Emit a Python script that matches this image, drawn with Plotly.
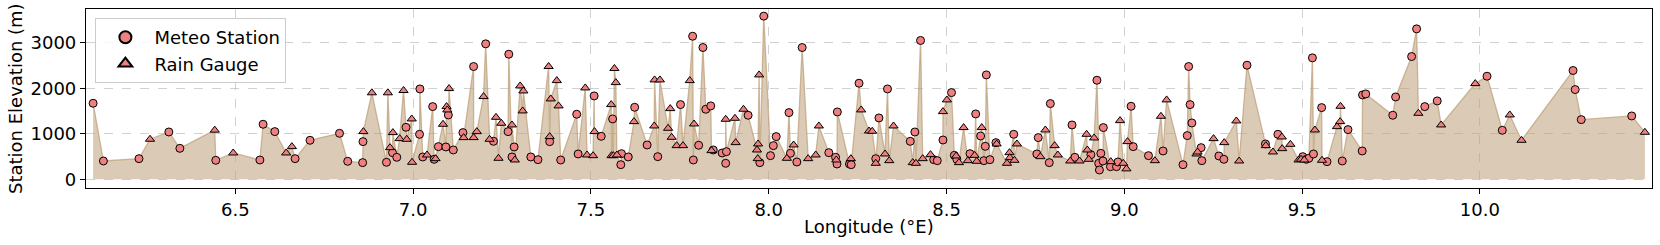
import plotly.graph_objects as go

# Meteo stations: longitude (°E), elevation (m)
meteo_lon = [6.100, 6.129, 6.229, 6.313, 6.344, 6.445, 6.569, 6.578, 6.611, 6.668,
             6.710, 6.793, 6.816, 6.858, 6.859, 6.925, 6.942, 6.954, 6.980, 7.018, 7.019,
             7.027, 7.055, 7.059, 7.071, 7.092, 7.099, 7.113, 7.140, 7.170, 7.204, 7.226,
             7.267, 7.269, 7.278, 7.284, 7.331, 7.351, 7.384, 7.415, 7.460, 7.464, 7.509,
             7.529, 7.561, 7.584, 7.586, 7.605, 7.623, 7.658, 7.688, 7.752, 7.786, 7.788,
             7.803, 7.815, 7.823, 7.837, 7.844, 7.869, 7.879, 7.881, 7.942, 7.975, 7.986,
             8.005, 8.013, 8.021, 8.057, 8.061, 8.079, 8.094, 8.169, 8.188, 8.192, 8.193,
             8.227, 8.232, 8.254, 8.301, 8.310, 8.334,
             8.398, 8.411, 8.427, 8.464, 8.474, 8.490, 8.514, 8.522, 8.529, 8.566, 8.582,
             8.596, 8.605, 8.609, 8.612, 8.622, 8.639, 8.689, 8.754, 8.758, 8.789, 8.792,
             8.853, 8.861, 8.906, 8.923, 8.928, 8.930, 8.934, 8.940, 8.941, 8.961, 8.978,
             8.982, 9.019, 9.025, 9.068, 9.109, 9.165, 9.177, 9.181, 9.185, 9.190, 9.216,
             9.218, 9.266, 9.280, 9.345, 9.397, 9.432,
             9.502, 9.512, 9.519, 9.529, 9.532, 9.555, 9.570, 9.613, 9.629, 9.669, 9.670,
             9.679, 9.755, 9.763, 9.808, 9.822, 9.845, 9.880,
             10.020, 10.063, 10.262, 10.268, 10.285, 10.427]
meteo_elev = [1670, 403, 454, 1040, 681, 418, 425, 1209, 1048, 454,
              857, 1011, 396, 367, 828, 374, 586, 484, 1143, 989, 1985,
              491, 1597, 440, 718, 711, 1414, 645, 1026, 2477, 2975, 835,
              1048, 2747, 491, 711, 491, 432, 828, 425, 1429, 557, 1832,
              945, 1326, 322, 564, 491, 1582, 755, 498, 1641, 3142, 425,
              748, 2894, 1539, 1612, 645, 579, 352, 608, 1407, 367, 3583,
              520, 740, 938, 1465, 572, 381, 2894, 586, 484, 337, 1480,
              337, 322, 2110, 454, 1348, 1985,
              835, 1040, 3049, 432, 410, 864, 1905, 527, 440, 564, 1436,
              952, 410, 725, 2293, 432, 806, 989, 557, 916, 367, 1663,
              1194, 484, 542, 2176, 352, 205, 571, 403, 1136, 278, 278,
              381, 1604, 718, 520, 623, 322, 960, 2477, 1641, 1238, 696,
              410, 513, 440, 2506, 777, 989,
              498, 440, 462, 2667, 557, 1575, 388, 403, 1092, 623, 1853,
              1875, 1407, 1809, 2696, 3304, 1597, 1722,
              2264, 1077, 2389, 1971, 1311, 1392]

# Rain gauges: longitude (°E), elevation (m)
rain_lon = [6.260, 6.442, 6.494, 6.643, 6.659, 6.860, 6.884, 6.929, 6.935, 6.943,
            6.962, 6.973, 6.982, 6.996, 6.997, 7.039, 7.063, 7.084, 7.094, 7.096,
            7.101, 7.142, 7.170, 7.179, 7.198, 7.215, 7.233, 7.240, 7.248, 7.278,
            7.286, 7.301, 7.308, 7.310, 7.381, 7.384, 7.387, 7.404, 7.409, 7.484,
            7.489, 7.506, 7.510, 7.557, 7.558, 7.563, 7.566, 7.570, 7.573, 7.621,
            7.678, 7.679, 7.694, 7.717, 7.723, 7.727, 7.741, 7.759, 7.778, 7.790,
            7.839, 7.879, 7.905, 7.907, 7.929, 7.967, 7.969, 7.970, 7.973, 8.051,
            8.070, 8.111, 8.132, 8.141, 8.190, 8.231, 8.260, 8.282, 8.291, 8.301,
            8.327, 8.339, 8.351,
            8.405, 8.414, 8.433, 8.455, 8.490, 8.501, 8.527, 8.535, 8.548, 8.560,
            8.579, 8.585, 8.599, 8.641, 8.670, 8.677, 8.678, 8.691, 8.698, 8.764,
            8.778, 8.804, 8.813, 8.848, 8.874, 8.894, 8.896, 8.900, 8.915,
            8.962, 8.988, 8.997, 9.006, 9.009, 9.086, 9.103, 9.119, 9.203, 9.206,
            9.251, 9.281, 9.315, 9.323, 9.398, 9.418, 9.443, 9.444, 9.467, 9.490,
            9.497, 9.506, 9.536, 9.556, 9.598, 9.607, 9.608, 9.827, 9.891, 9.987,
            10.084, 10.117, 10.464]
rain_elev = [880, 1080, 579, 579, 718, 1048, 1900, 1900, 696, 1026,
             894, 1950, 879, 1326, 374, 535, 454, 1209, 1597, 1524,
             1993, 916, 916, 1048, 1817, 879, 1362, 462, 1231, 1194,
             425, 2051, 1502, 1941, 2477, 938, 1766, 2168, 1612, 2007,
             535, 520, 1048, 1641, 520, 520, 2433, 2124, 535, 1267,
             1172, 2183, 2183, 1121, 1553, 923, 740, 740, 2168, 1216,
             630, 1319, 1340, 806, 1539, 645, 454, 777, 2293, 462,
             755, 454, 535, 1172, 425, 454, 1524, 1062, 1055, 352,
             557, 410, 1172,
             367, 352, 454, 542, 1487, 1744, 513, 367, 1136, 410,
             527, 396, 1136, 777, 352, 586, 476, 418, 777, 498,
             1084, 740, 535, 403, 403, 989, 645, 440, 909,
             388, 1289, 352, 230, 828, 410, 1384, 1744, 557, 601,
             894, 806, 1282, 403, 740, 601, 930, 674, 769, 425,
             440, 425, 1084, 418, 1157, 1267, 1604, 1450, 1194, 2102,
             1414, 857, 1033]

x_ticks = [6.5, 7.0, 7.5, 8.0, 8.5, 9.0, 9.5, 10.0]
y_ticks = [0, 1000, 2000, 3000]

# combined profile sorted by longitude
pairs = sorted(zip(meteo_lon + rain_lon, meteo_elev + rain_elev), key=lambda p: p[0])
all_lon = [p[0] for p in pairs]
all_elev = [p[1] for p in pairs]

FONT = "DejaVu Sans"
fig = go.Figure()
fig.add_trace(go.Scatter(
    x=all_lon, y=all_elev, mode="lines", fill="tozeroy",
    fillcolor="rgba(190,160,122,0.55)",
    line=dict(color="rgba(190,160,122,0.75)", width=1.3),
    showlegend=False, hoverinfo="skip"))
fig.add_trace(go.Scatter(
    x=meteo_lon, y=meteo_elev, mode="markers", name="Meteo Station",
    marker=dict(symbol="circle", size=8, color="#F08080",
                line=dict(color="black", width=1))))
fig.add_trace(go.Scatter(
    x=rain_lon, y=rain_elev, mode="markers", name="Rain Gauge",
    marker=dict(symbol="triangle-up", size=8, color="#F08080",
                line=dict(color="black", width=1))))

axis_common = dict(
    showline=True, linecolor="black", linewidth=1.2, mirror=True,
    ticks="outside", ticklen=5, tickwidth=1, tickcolor="black",
    showgrid=True, gridcolor="rgba(185,185,185,0.65)", griddash="dash", gridwidth=1,
    zeroline=False, automargin=False,
    tickfont=dict(family=FONT, size=18, color="black"))

fig.update_xaxes(range=[6.08, 10.484], tickvals=x_ticks,
                 ticktext=[f"{v:.1f}" for v in x_ticks], **axis_common)
fig.update_yaxes(range=[-190, 3740], tickvals=y_ticks,
                 ticktext=[str(v) for v in y_ticks], **axis_common)

W, H = 1660, 245
PLOT_L, PLOT_R, PLOT_T, PLOT_B = 86, 1652, 9, 188
PW, PH = PLOT_R - PLOT_L, PLOT_B - PLOT_T

fig.add_annotation(text="Longitude (°E)", xref="paper", yref="paper",
                   x=0.5, y=(PLOT_B - 226) / PH, xanchor="center", yanchor="middle",
                   showarrow=False, font=dict(family=FONT, size=18, color="black"))
fig.add_annotation(text="Station Elevation (m)", xref="paper", yref="paper",
                   x=(15 - PLOT_L) / PW, y=(PLOT_B - 99) / PH, xanchor="center", yanchor="middle",
                   textangle=-90, showarrow=False, font=dict(family=FONT, size=18, color="black"))

fig.update_layout(
    width=W, height=H,
    margin=dict(l=PLOT_L, r=W - PLOT_R, t=PLOT_T, b=H - PLOT_B, pad=0, autoexpand=False),
    paper_bgcolor="white", plot_bgcolor="white",
    font=dict(family=FONT, size=18, color="black"),
    legend=dict(x=0.006, y=(PLOT_B - 18) / PH, xanchor="left", yanchor="top",
                bgcolor="rgba(255,255,255,0.85)", bordercolor="#cccccc", borderwidth=1,
                font=dict(family=FONT, size=18), itemsizing="constant", itemwidth=48),
)

fig.write_html("out.html",
               config={"displayModeBar": False},
               post_script="document.body.style.margin='0';document.body.style.overflow='hidden';")
